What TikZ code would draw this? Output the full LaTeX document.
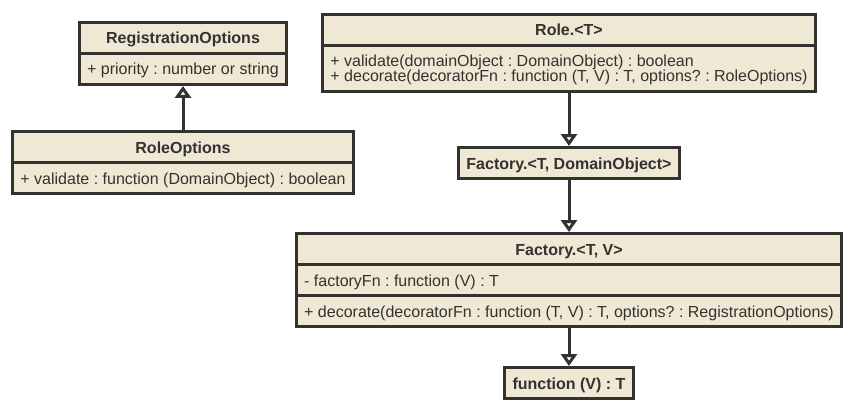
\documentclass[tikz,border=0pt]{standalone}
\usepackage{fontspec}
\setmainfont{Liberation Sans}
\usetikzlibrary{shapes.multipart,arrows.meta}

\definecolor{umlFill}{HTML}{EEE8D5}
\definecolor{umlLine}{HTML}{33322E}

\newcommand*{\xLeft}{183}
\newcommand*{\xRight}{569}
\newcommand*{\umlStrut}{\vrule height 13.5pt depth 1.5pt width 0pt}
\newcommand*{\umlHead}[1]{\umlStrut\smash{\textbf{#1}}}
\newcommand*{\umlRow}[1]{\umlStrut\smash{#1}}
\newcommand*{\umlRows}[2]{{\renewcommand{\arraystretch}{0}%
  \begin{tabular}{@{}l@{}}\umlRow{#1}\\\umlRow{#2}\end{tabular}}}

\tikzset{
  umlclass/.style={draw=umlLine, fill=umlFill, line width=3pt,
    rectangle split, rectangle split parts=#1,
    rectangle split part align={center,left,left},
    inner xsep=8pt, inner ysep=6.5pt, anchor=north,
    text=umlLine, font=\fontsize{16pt}{15pt}\selectfont\frenchspacing},
  umlclass/.default=2,
  extends/.style={draw=umlLine, line width=3pt,
    -{Triangle[open,length=12pt,width=16pt]}}
}

\begin{document}
\begin{tikzpicture}[x=1pt,y=-1pt]
\useasboundingbox (0,0) rectangle (853,409);
%   \foreach \i in {0,50,...,850} {
%       \draw [very thin,gray] (\i,0) -- (\i,409)  ;
%   }

    \node[umlclass] (regopts) at (\xLeft,21)
        {\umlHead{RegistrationOptions}
         \nodepart{two}\umlRow{+ priority : number or string}};

    \node[umlclass] (roleopts) at (\xLeft,130)
        {\umlHead{RoleOptions}
         \nodepart{two}\umlRow{+ validate : function (DomainObject) : boolean}};

    \node[umlclass] (role) at (\xRight,13)
        {\umlHead{Role.<T>}
         \nodepart{two}\umlRows{+ validate(domainObject : DomainObject) : boolean}
           {+ decorate(decoratorFn : function (T, V) : T, options? : RoleOptions)}};

    \node[umlclass=1] (factorydo) at (\xRight,146)
        {\umlHead{Factory.<T, DomainObject>}};

    \node[umlclass=3] (factorytv) at (\xRight,232)
        {\umlHead{Factory.<T, V>}
         \nodepart{two}\umlRow{- factoryFn : function (V) : T}
         \nodepart{three}\umlRow{+ decorate(decoratorFn : function (T, V) : T, options? : RegistrationOptions)}};

    \node[umlclass=1] (fnvt) at (\xRight,366)
        {\umlHead{function (V) : T}};

    \draw[extends] (roleopts.north) -- (regopts.south);
    \draw[extends] (role.south) -- (factorydo.north);
    \draw[extends] (factorydo.south) -- (factorytv.north);
    \draw[extends] (factorytv.south) -- (fnvt.north);

\end{tikzpicture}
\end{document}
